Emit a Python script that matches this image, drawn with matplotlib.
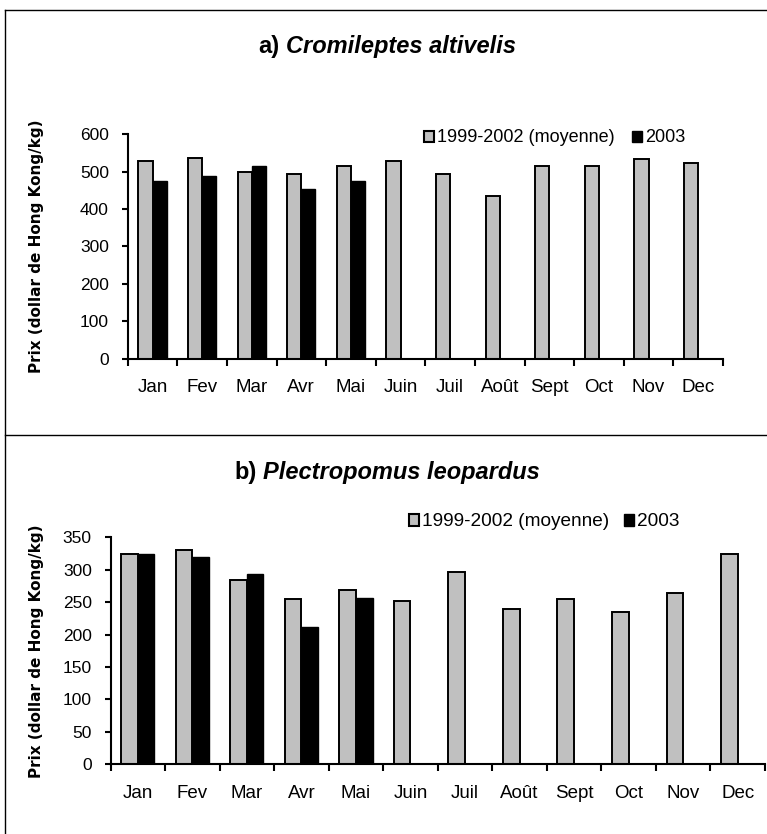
import numpy as np
import matplotlib.pyplot as plt
from matplotlib.lines import Line2D
from matplotlib.patches import Patch

months = ["Jan", "Fev", "Mar", "Avr", "Mai", "Juin", "Juil", "Août", "Sept", "Oct", "Nov", "Dec"]

# prix moyens 1999-2002 et prix 2003 (janvier à mai seulement)
cromi_moy = [528, 536, 500, 494, 515, 528, 494, 435, 515, 515, 535, 522]
cromi_2003 = [475, 488, 515, 453, 475]
plect_moy = [325, 330, 284, 255, 268, 251, 296, 239, 255, 235, 264, 325]
plect_2003 = [325, 319, 294, 211, 257]

W, H = 767, 834
fig = plt.figure(figsize=(W / 100, H / 100), dpi=100)

GRIS = "#c0c0c0"
SANS = ["Liberation Sans", "DejaVu Sans"]


def px_axes(left, right, top, bottom):
    return fig.add_axes([left / W, 1 - bottom / H, (right - left) / W, (bottom - top) / H])


def panel(ax, moy, y2003, ymax, step, width):
    x = np.arange(len(months))
    ax.bar(x - width / 2, moy, width, color=GRIS, edgecolor="black", linewidth=1.4, zorder=2)
    ax.bar(x[:len(y2003)] + width / 2, y2003, width, color="black", edgecolor="black",
           linewidth=1.0, zorder=3)
    ax.set_xlim(-0.5, len(months) - 0.5)
    ax.set_ylim(0, ymax)
    ax.set_yticks(np.arange(0, ymax + 1, step))
    # traits aux limites des mois, étiquettes au centre
    ax.set_xticks(np.arange(-0.5, len(months)), labels=[])
    ax.set_xticks(x, labels=months, minor=True)
    ax.tick_params(axis="x", which="major", direction="out", length=5, width=1.5)
    ax.tick_params(axis="x", which="minor", length=0, pad=15)
    ax.tick_params(axis="y", direction="out", length=4.5, width=1.5, pad=9)
    for lab in ax.get_xticklabels(minor=True):
        lab.set_family(SANS)
        lab.set_fontsize(13.5)
    for lab in ax.get_yticklabels():
        lab.set_family(SANS)
        lab.set_fontsize(12.5)
    for s in ("top", "right"):
        ax.spines[s].set_visible(False)
    for s in ("left", "bottom"):
        ax.spines[s].set_linewidth(1.5)
    ax.patch.set_visible(False)


def legende(x_px, y_px, size, gap):
    handles = [Patch(facecolor=GRIS, edgecolor="black", linewidth=1.5),
               Patch(facecolor="black", edgecolor="black", linewidth=1.0)]
    fig.legend(handles, ["1999-2002 (moyenne)", "2003"], loc="center left",
               bbox_to_anchor=(x_px / W, 1 - y_px / H), ncol=2, frameon=False,
               prop={"family": SANS, "size": size}, handlelength=0.55, handleheight=0.55,
               handletextpad=0.15, columnspacing=gap, borderpad=0, borderaxespad=0)


def titre(xc_px, y_px, prefixe, espece):
    r = fig.canvas.get_renderer()
    t1 = fig.text(0, 1 - y_px / H, prefixe, family=SANS, weight="bold", size=17, va="center")
    t2 = fig.text(0, 1 - y_px / H, espece, family=SANS, weight="bold", style="italic",
                  size=17, va="center")
    w1 = t1.get_window_extent(r).width
    w2 = t2.get_window_extent(r).width
    esp = 17 * 100 / 72 * 0.28
    x0 = xc_px - (w1 + esp + w2) / 2
    t1.set_x(x0 / W)
    t2.set_x((x0 + w1 + esp) / W)


ax1 = px_axes(127.7, 723, 134.3, 358.6)
panel(ax1, cromi_moy, cromi_2003, 600, 100, 0.285)
ax2 = px_axes(110.5, 765, 537.4, 764)
panel(ax2, plect_moy, plect_2003, 350, 50, 0.305)

titre(387, 47, "a)", "Cromileptes altivelis")
titre(387, 472, "b)", "Plectropomus leopardus")

legende(424, 138, 13, 1.0)
legende(409, 522, 13.7, 0.75)

ylab = "Prix (dollar de Hong Kong/kg)"
fig.text(37 / W, 1 - 246.5 / H, ylab, rotation=90, ha="center", va="center",
         family="DejaVu Sans", weight="bold", size=11)
fig.text(37 / W, 1 - 651 / H, ylab, rotation=90, ha="center", va="center",
         family="DejaVu Sans", weight="bold", size=11)

# cadre des deux panneaux
cadre = dict(color="black", linewidth=1.0, transform=fig.transFigure)
fig.add_artist(Line2D([5 / W, 5 / W], [0, 1 - 10 / H], **cadre))
fig.add_artist(Line2D([5 / W, 1], [1 - 10 / H, 1 - 10 / H], **cadre))
fig.add_artist(Line2D([5 / W, 1], [1 - 435 / H, 1 - 435 / H], **cadre))

fig.savefig("out.png", dpi=100)
